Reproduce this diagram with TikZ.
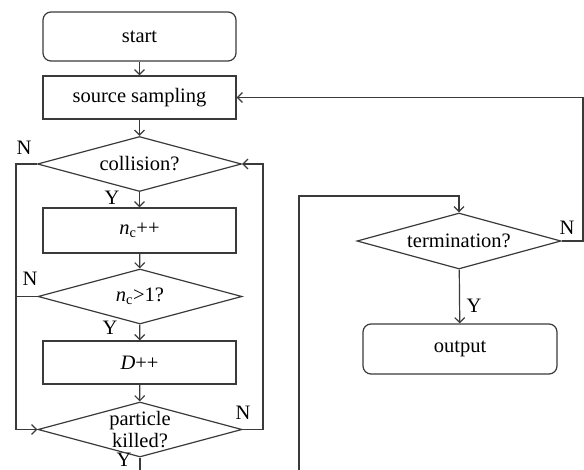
\documentclass[tikz,border=0pt]{standalone}
\usepackage{fontspec}
\setmainfont{Liberation Serif}
\usetikzlibrary{arrows.meta,shapes.geometric}
\definecolor{linec}{HTML}{3A3A3A}
\begin{document}
\begin{tikzpicture}[x=1pt,y=-1pt,
  every node/.style={font=\fontsize{20.5}{22}\selectfont},
  box/.style={draw=linec, line width=1.2pt, minimum width=193pt, minimum height=43pt, inner sep=0pt},
  rbox/.style={box, rounded corners=8pt, minimum height=49pt},
  dia/.style={draw=linec, line width=1.2pt, diamond, inner sep=0pt, minimum width=204pt, minimum height=55pt},
  lbl/.style={inner sep=0pt},
  conn/.style={draw=linec, line width=1.2pt},
  arr/.style={conn, -{Straight Barb[length=5pt,width=10pt]}}
]
\useasboundingbox (0,0) rectangle (584,470);

\node[rbox] (start) at (139.5,36.5) {start};
\node[box] (src) at (139.5,97.5) {source sampling};
\node[dia, label={center:collision?}] (col) at (139.5,164) {};
\node[box, minimum height=45pt] (nc) at (139.5,230.5) {\textit{n}\textsubscript{c}++};
\node[dia, label={center:\textit{n}\textsubscript{c}>1?}] (ncg) at (140,296.5) {};
\node[box] (dpp) at (139.5,362.5) {\textit{D}++};
\node[dia, label={[align=center]center:particle\\killed?}] (kill) at (140,429.5) {};
\node[dia, minimum height=56pt, label={center:termination?}] (term) at (459,241) {};
\node[rbox, minimum width=194pt, minimum height=50pt] (out) at (460,349) {output};

\coordinate (lx) at (16,0);
\coordinate (rx) at (263,0);
\coordinate (bot1) at (140,470);
\coordinate (bot2) at (299,470);
\coordinate (top2) at (299,196);
\coordinate (farR) at (583,0);

\draw[arr] (start) -- (src);
\draw[arr] (src) -- (col);
\draw[arr] (col) -- (nc);
\draw[arr] (nc) -- (ncg);
\draw[arr] (ncg) -- (dpp);
\draw[arr] (dpp) -- (kill);
\draw[conn] (kill.south) -- (bot1);

\draw[arr] (col.west) -- (lx |- col.west) -- (lx |- kill.west) -- (kill.west);
\draw[conn] (ncg.west) -- (lx |- ncg.west);
\draw[arr] (kill.east) -- (rx |- kill.east) -- (rx |- col.east) -- (col.east);

\draw[arr] (bot2) -- (top2) -- (top2 -| term.north) -- (term.north);
\draw[arr] (term.east) -- (farR |- term.east) -- (farR |- src.east) -- (src.east);
\draw[arr] (term) -- (out);

\node[lbl] (n1) at (24,148) {N};
\node[lbl] (y1) at (112,198) {Y};
\node[lbl] (n2) at (30,279) {N};
\node[lbl] (y2) at (110,328) {Y};
\node[lbl] (n3) at (243,413) {N};
\node[lbl] (y3) at (124,460) {Y};
\node[lbl] (n4) at (567,228) {N};
\node[lbl] (y4) at (474,306) {Y};
\end{tikzpicture}
\end{document}
